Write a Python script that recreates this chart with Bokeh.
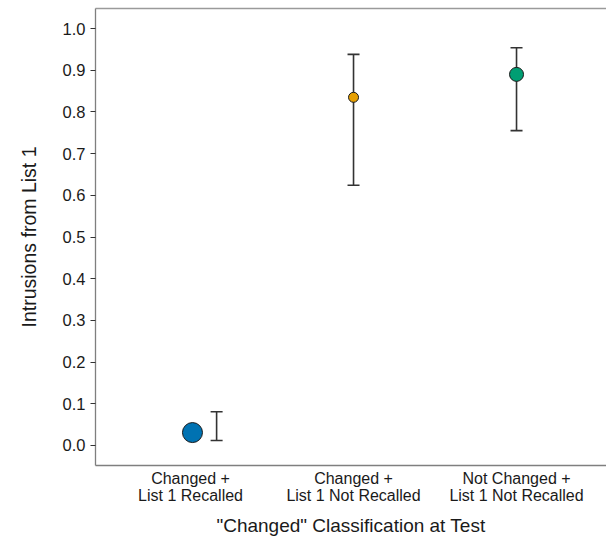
from bokeh.plotting import figure
from bokeh.models import ColumnDataSource, Whisker, TeeHead, FixedTicker, LinearAxis, Range1d
from bokeh.embed import file_html
from bokeh.resources import INLINE

# data
conditions = ["Changed +\nList 1 Recalled", "Changed +\nList 1 Not Recalled", "Not Changed +\nList 1 Not Recalled"]
cond_pos = [1, 2, 3]
means = [0.031, 0.835, 0.890]
lower = [0.012, 0.624, 0.755]
upper = [0.081, 0.938, 0.954]
colors = ["#0072B2", "#E69F00", "#009E73"]
sizes = [20, 10, 14]
point_dodge = [0.012, 0.0, 0.0]
bar_dodge = [0.16, 0.0, 0.0]
y_ticks = [0.0, 0.1, 0.2, 0.3, 0.4, 0.5, 0.6, 0.7, 0.8, 0.9, 1.0]

FONT = "Liberation Sans"

p = figure(width=606, height=539, output_backend="svg", toolbar_location=None,
           x_range=Range1d(0.417, 3.552), y_range=Range1d(-0.048, 1.048),
           min_border_left=95, min_border_right=0, min_border_top=8, min_border_bottom=74)
p.outline_line_color = None
p.grid.grid_line_color = None
p.background_fill_color = "white"

src = ColumnDataSource(dict(
    xp=[c + d for c, d in zip(cond_pos, point_dodge)],
    xb=[c + d for c, d in zip(cond_pos, bar_dodge)],
    m=means, lo=lower, up=upper, col=colors, sz=sizes))

w = Whisker(source=src, base="xb", lower="lo", upper="up", dimension="height",
            line_color="#333333", line_width=1.6,
            upper_head=TeeHead(size=12, line_color="#333333", line_width=1.6),
            lower_head=TeeHead(size=12, line_color="#333333", line_width=1.6))
p.add_layout(w)

p.scatter("xp", "m", source=src, size="sz", fill_color="col", line_color="#1a1a1a", line_width=1)

# axes styling
xa = p.xaxis[0]
xa.ticker = FixedTicker(ticks=cond_pos)
xa.major_label_overrides = {c: l for c, l in zip(cond_pos, conditions)}
xa.major_tick_line_color = None
xa.minor_tick_line_color = None
xa.major_tick_out = 0
xa.axis_line_color = "#7f7f7f"
xa.axis_line_width = 1.3
xa.major_label_text_font = FONT
xa.major_label_text_font_size = "16px"
xa.major_label_text_line_height = 1.0
xa.major_label_text_color = "#1a1a1a"
xa.major_label_standoff = 4
xa.axis_label = '"Changed" Classification at Test'
xa.axis_label_text_font = FONT
xa.axis_label_text_font_size = "19px"
xa.axis_label_text_font_style = "normal"
xa.axis_label_text_color = "#1a1a1a"
xa.axis_label_standoff = 8

ya = p.yaxis[0]
ya.ticker = FixedTicker(ticks=y_ticks)
ya.major_label_overrides = {t: f"{t:.1f}" for t in y_ticks}
ya.minor_tick_line_color = None
ya.major_tick_in = 0
ya.major_tick_out = 5
ya.major_tick_line_color = "#333333"
ya.major_tick_line_width = 1.2
ya.axis_line_color = "#7f7f7f"
ya.axis_line_width = 1.3
ya.major_label_text_font = FONT
ya.major_label_text_font_size = "16.5px"
ya.major_label_text_color = "#1a1a1a"
ya.major_label_standoff = 5
ya.axis_label = "Intrusions from List 1"
ya.axis_label_text_font = FONT
ya.axis_label_text_font_size = "19.5px"
ya.axis_label_text_font_style = "normal"
ya.axis_label_text_color = "#1a1a1a"
ya.axis_label_standoff = 20

top = LinearAxis(ticker=FixedTicker(ticks=[]), axis_line_color="#9a9a9a", axis_line_width=1.3,
                 major_tick_line_color=None, minor_tick_line_color=None,
                 major_label_text_font_size="0px")
p.add_layout(top, "above")

open("out.html", "w").write(file_html(p, INLINE))
